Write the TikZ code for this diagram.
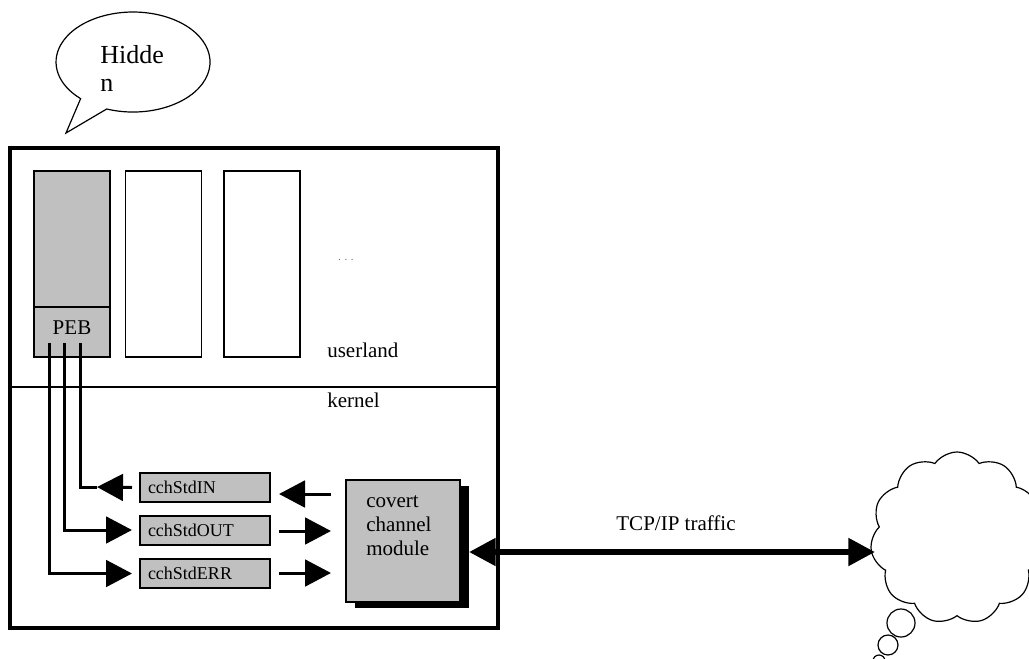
\documentclass[tikz,border=0pt]{standalone}
\usepackage{fontspec}
\setmainfont{Liberation Serif}
\newfontfamily\tnr{Liberation Serif}
\usetikzlibrary{arrows.meta,shapes.symbols,shadows}
\definecolor{boxgray}{RGB}{192,192,192}
\begin{document}
\begin{tikzpicture}[x=0.75pt,y=-0.75pt,
  lbl/.style={inner sep=0pt, font=\tnr\fontsize{15.75}{18}\selectfont},
  procbox/.style={draw, line width=1pt, minimum width=57pt, minimum height=139.5pt, inner sep=0pt},
  grayfill/.style={fill=boxgray},
  cchbox/.style={draw, fill=boxgray, line width=1.5pt, minimum width=97.5pt, minimum height=21.75pt,
     inner xsep=6pt, inner ysep=0pt, text width=85.5pt, align=left, font=\tnr\fontsize{13.5}{15}\selectfont},
  wire/.style={line width=2.25pt},
  arr/.style={line width=2.25pt, -{Triangle[length=19.5pt,width=20pt]}},
  big/.style={line width=4.5pt, {Triangle[length=20pt,width=20pt]}-{Triangle[length=20pt,width=20pt]}},
  thin/.style={line width=0.9pt}
]
\useasboundingbox (0,0) rectangle (1029,658);

% speech bubble
\draw[thin, fill=white] (106.7,109) arc[start angle=250, end angle=587.1, x radius=57.75pt, y radius=37.5pt]
   -- (66,133) -- cycle;
\node[lbl, anchor=north west, align=left, font=\tnr\fontsize{19.5}{21}\selectfont] (hid) at (100,45) {Hidde\\n};

% outer system box
\node[draw, line width=3pt, minimum width=366pt, minimum height=360pt, inner sep=0pt] (sys) at (254,388) {};
\draw[line width=2pt] (10,387) -- (498,387);

% processes
\node[procbox, grayfill] (p1) at (72,264) {};
\node[draw, line width=1pt, fill=boxgray, minimum width=57pt, minimum height=37.5pt, inner sep=0pt,
      font=\tnr\fontsize{15.75}{18}\selectfont, text depth=7pt] (peb) at (72,332) {PEB};
\node[procbox] (p2) at (163.5,264) {};
\node[procbox] (p3) at (262,264) {};
\node[inner sep=0pt, text=gray!80!black, font=\tnr\fontsize{8}{9}\selectfont] (dots) at (346,260) {. . .};

\node[lbl, anchor=base west] (user) at (327,357) {userland};
\node[lbl, anchor=base west] (kern) at (327,407) {kernel};

% cch boxes
\node[cchbox] (cin) at (205,487.5) {cchStdIN};
\node[cchbox] (cout) at (205,530) {cchStdOUT};
\node[cchbox] (cerr) at (205,573.5) {cchStdERR};

% module
\node[draw, fill=boxgray, line width=1.5pt, minimum width=85.5pt, minimum height=91.5pt, inner sep=0pt,
      drop shadow={shadow xshift=6.75pt, shadow yshift=-4.5pt, fill=black, opacity=1}] (mod) at (403,541) {};
\node[lbl, anchor=north west, align=left] (modtxt) at (366,495) {covert\\channel\\module};

% wires from PEB
\coordinate (w1) at (49,343);
\coordinate (w2) at (64,343);
\coordinate (w3) at (80,343);
\coordinate (intip) at (97,487);
\draw[wire] (w3) |- (intip);
\draw[arr] ([xshift=-5.25pt]cin.west) -- (intip);
\draw[arr] (w2) |- ([xshift=-5.25pt]cout.west);
\draw[arr] (w1) |- ([xshift=-5.25pt]cerr.west);

% arrows between cch boxes and module
\draw[arr] (331,494) -- ([xshift=6pt]cin.east |- 0,494);
\draw[arr] ([xshift=6pt]cout.east |- 0,531) -- (331,531);
\draw[arr] ([xshift=6pt]cerr.east |- 0,573) -- (331,573);

% cloud
\node[cloud, draw, thin, cloud puffs=11, cloud puff arc=110, aspect=1, shape border rotate=10,
      minimum width=130pt, minimum height=129pt] (cloud) at (957,538) {};
\draw[thin] (901,623) circle[radius=10.5pt];
\draw[thin] (888,645) circle[radius=7.5pt];
\draw[thin] (879,661) circle[radius=4.5pt];

% TCP/IP link
\coordinate (tcpL) at (469,552);
\coordinate (tcpR) at (875,552);
\draw[big] (tcpL) -- (tcpR);
\node[lbl] (tcp) at (676,523) {TCP/IP traffic};
\end{tikzpicture}
\end{document}
